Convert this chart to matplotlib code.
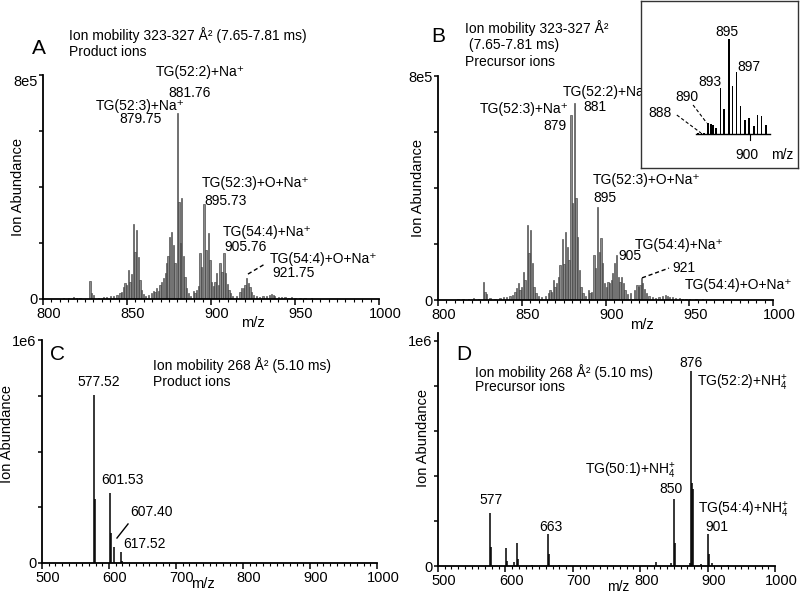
import numpy as np
import matplotlib
matplotlib.use('Agg')
import matplotlib.pyplot as plt
from matplotlib.transforms import ScaledTranslation

plt.rcParams['font.family'] = ['Liberation Sans', 'DejaVu Sans']
plt.rcParams['mathtext.fontset'] = 'custom'
plt.rcParams['mathtext.rm'] = 'Liberation Sans'
plt.rcParams['mathtext.it'] = 'Liberation Sans:italic'
plt.rcParams['mathtext.bf'] = 'Liberation Sans:bold'

# ---- data (m/z, abundance in thousands) ----
a_mz = [812, 815, 818, 820, 822, 828.0, 829.0, 830.0, 833, 836, 838, 840, 842, 844,
        845.8, 846.8, 847.8, 848.8, 849.8, 850.8, 851.8, 852.8, 853.8, 854.8, 855.8,
        856.8, 857.8, 858.8, 859.8, 861, 863, 864.7, 865.7, 866.7, 867.7, 868.7, 869.7,
        870.7, 871.7, 872.7, 873.6, 874.4, 875.2, 876.6, 877.6, 878.6, 879.9, 880.9,
        881.7, 882.5, 883.5, 884.5, 885.5, 886.5, 888, 889.4, 890.4, 891.4, 892.4,
        893.4, 894.4, 895.8, 897.0, 898.4, 899.4, 900.4, 901.4, 902.4, 903.4, 904.4,
        905.4, 906.5, 907.7, 908.7, 909.7, 910.7, 911.7, 913, 915, 917.2, 918.2, 919.2,
        920.2, 921.2, 922.2, 923.2, 924.2, 925.5, 927, 929, 931, 933, 935, 936, 937,
        938, 940, 942, 944, 946, 948, 950, 953, 956, 960]
a_int = [3, 4, 6, 5, 4, 64, 22, 14, 5, 7, 8, 10, 9, 14,
         20, 26, 44, 58, 50, 103, 62, 90, 268, 169, 246,
         151, 68, 32, 18, 10, 14, 22, 30, 26, 38, 30, 50,
         60, 74, 92, 127, 155, 222, 240, 193, 130, 663, 347,
         200, 359, 155, 80, 40, 20, 10, 28, 20, 32, 48,
         163, 115, 341, 175, 234, 140, 62, 45, 62, 92, 50,
         127, 95, 163, 92, 55, 32, 20, 10, 12, 26, 38, 38,
         50, 74, 56, 42, 26, 14, 10, 8, 9, 12, 16, 18, 14,
         12, 8, 7, 6, 5, 6, 5, 3, 3, 2]

b_mz = [812, 815, 818, 821, 824, 827.1, 828.1, 829.1, 831, 834, 837, 839, 841, 843,
        844.5, 846.0, 847.0, 848.0, 849.0, 850.0, 850.9, 852.0, 853.3, 854.3, 855.3,
        856.3, 857.3, 858.5, 860, 862, 864, 865.9, 866.9, 867.9, 868.9, 869.9, 870.9,
        871.9, 872.9, 874.2, 875.2, 876.2, 877.2, 878.2, 879.4, 880.4, 881.4, 882.4,
        883.4, 884.4, 885.4, 886.5, 888, 889.7, 890.7, 891.7, 893.1, 894.1, 895.3,
        896.3, 897.3, 898.3, 899.3, 900.5, 901.5, 902.5, 903.5, 904.3, 905.3, 906.7,
        907.7, 908.7, 909.7, 910.7, 911.7, 913, 915, 917.5, 918.8, 919.8, 920.6, 921.4,
        922.3, 923.3, 924.5, 926, 928, 930, 932, 934, 936, 937, 938, 940, 942, 944,
        946, 948, 950, 954, 958]
b_int = [3, 4, 5, 6, 4, 65, 30, 22, 6, 5, 8, 10, 12, 15,
         18, 30, 42, 60, 36, 48, 101, 70, 268, 167, 250,
         131, 48, 24, 14, 12, 16, 24, 36, 30, 71, 48, 60,
         83, 125, 217, 130, 244, 190, 143, 660, 345, 705, 363,
         226, 107, 48, 24, 14, 36, 24, 30, 160, 113, 333,
         173, 220, 131, 60, 48, 65, 60, 71, 95, 131, 160,
         83, 65, 83, 60, 36, 20, 24, 36, 54, 48, 54, 77,
         60, 40, 24, 14, 10, 8, 10, 14, 18, 16, 12, 9, 7, 6,
         5, 5, 4, 3, 2]

# inset of panel B (relative abundance)
ins_mz = [887.64, 888.44, 889.08, 890.04, 890.68, 891.24, 891.88, 893.0, 893.8, 895.0,
          895.88, 896.84, 897.8, 898.84, 899.88, 901.0, 901.88, 902.84, 903.88]
ins_int = [3, 3, 4, 33, 31, 28, 20, 138, 77, 285, 145, 188, 85, 43, 50, 25, 58, 55, 28]

c_mz = [577.52, 578.5, 601.53, 602.5, 607.40, 617.52, 619.5]
c_int = [753, 287, 315, 134, 73, 51, 8]

d_mz = [577, 578, 601, 602, 613, 617, 618, 640, 663, 664, 680, 823, 845, 850, 851,
        874, 876, 877, 878, 890, 901, 902, 906, 930]
d_int = [234, 86, 79, 20, 19, 104, 30, 5, 141, 53, 5, 19, 12, 296, 104,
         12, 868, 369, 343, 8, 142, 53, 12, 4]

fig = plt.figure(figsize=(8, 5.93), dpi=100)
fs = 10
tls = 10.5


def P(px, py):
    return px / 800.0, 1 - py / 593.0


def setup(ax, x0, x1, minor, ytop, yticks, toplab, zsize, tsize):
    ax.set_xlim(x0, x1)
    ax.set_ylim(0, ytop)
    for s in ['top', 'right']:
        ax.spines[s].set_visible(False)
    for s in ['left', 'bottom']:
        ax.spines[s].set_linewidth(1.3)
    ax.set_xticks(np.arange(x0, x1 + 1, (x1 - x0) / (4 if x1 - x0 == 200 else 5)))
    ax.set_xticks(np.arange(x0, x1 + 1, minor), minor=True)
    ax.set_yticks(yticks)
    labs = ax.set_yticklabels(['0'] + [''] * (len(yticks) - 2) + [toplab])
    labs[0].set_fontsize(zsize)
    labs[-1].set_fontsize(tsize)
    ax.tick_params(axis='both', which='major', length=4, width=1.1, labelsize=tls, pad=2)
    ax.tick_params(axis='x', which='minor', length=2, width=0.8)
    ax.tick_params(axis='y', length=3, pad=1)
    # tick labels in the original sit a few pixels right of their ticks
    off = ScaledTranslation(6 / 100, 0, fig.dpi_scale_trans)
    for lab in ax.get_xticklabels():
        lab.set_transform(lab.get_transform() + off)


def mz(ax, x, y, size=tls):
    ax.text(x, y, 'm/z', transform=ax.transAxes, ha='center', va='center', fontsize=size)


def ylab(ax, x, y):
    ax.text(x, y, 'Ion Abundance', transform=ax.transAxes, ha='center', va='center',
            rotation=90, fontsize=tls)


# ---------- A ----------
axA = fig.add_axes([43 / 800, 1 - 299 / 593, 336 / 800, 224 / 593])
axA.bar(a_mz, np.array(a_int) * 1e3, width=0.75, facecolor='#8a8a8a', edgecolor='#333333',
        linewidth=0.4)
setup(axA, 800, 1000, 5, 8e5, [0, 2e5, 4e5, 6e5, 8e5], '8e5', tls, tls)
axA.get_yticklabels()[-1].set_va('top')
ylab(axA, -0.074, 0.5)
mz(axA, 0.625, -0.107)
axA.text(867.3, 8.1e5, 'TG(52:2)+Na⁺', fontsize=fs, va='center', clip_on=False)
axA.text(874.4, 7.36e5, '881.76', fontsize=fs, va='center')
axA.text(831.5, 6.9e5, 'TG(52:3)+Na⁺', fontsize=fs, va='center')
axA.text(845.2, 6.44e5, '879.75', fontsize=fs, va='center')
axA.text(894.6, 4.16e5, 'TG(52:3)+O+Na⁺', fontsize=fs, va='center')
axA.text(895.8, 3.51e5, '895.73', fontsize=fs, va='center')
axA.text(907.1, 2.41e5, 'TG(54:4)+Na⁺', fontsize=fs, va='center')
axA.text(907.7, 1.84e5, '905.76', fontsize=fs, va='center')
axA.text(935.1, 1.42e5, 'TG(54:4)+O+Na⁺', fontsize=fs, va='center')
axA.text(936.3, 0.94e5, '921.75', fontsize=fs, va='center')
axA.plot([922.0, 932.1], [0.89e5, 1.25e5], color='black', lw=1, ls=(0, (3, 2)))
fig.text(*P(39, 48), 'A', fontsize=15, ha='center', va='center')
fig.text(*P(69, 35), 'Ion mobility 323-327 Å² (7.65-7.81 ms)', fontsize=fs, va='center')
fig.text(*P(69, 52), 'Product ions', fontsize=fs, va='center')

# ---------- B ----------
axB = fig.add_axes([438 / 800, 1 - 300 / 593, 335 / 800, 224 / 593])
axB.bar(b_mz, np.array(b_int) * 1e3, width=0.75, facecolor='#8a8a8a', edgecolor='#333333',
        linewidth=0.4)
setup(axB, 800, 1000, 5, 8e5, [0, 2e5, 4e5, 6e5, 8e5], '8e5', 4, tls)
ylab(axB, -0.06, 0.5)
mz(axB, 0.609, -0.112)
axB.text(874.6, 7.43e5, 'TG(52:2)+Na⁺', fontsize=fs, va='center')
axB.text(886.6, 6.89e5, '881', fontsize=fs, va='center')
axB.text(825.1, 6.82e5, 'TG(52:3)+Na⁺', fontsize=fs, va='center')
axB.text(862.7, 6.21e5, '879', fontsize=fs, va='center')
axB.text(892.5, 4.28e5, 'TG(52:3)+O+Na⁺', fontsize=fs, va='center')
axB.text(892.5, 3.64e5, '895', fontsize=fs, va='center')
axB.text(917.6, 1.96e5, 'TG(54:4)+Na⁺', fontsize=fs, va='center')
axB.text(907.5, 1.57e5, '905', fontsize=fs, va='center')
axB.text(939.7, 1.14e5, '921', fontsize=fs, va='center')
axB.text(947.5, 0.54e5, 'TG(54:4)+O+Na⁺', fontsize=fs, va='center', clip_on=False)
axB.plot([921.8, 937.9], [0.79e5, 1.14e5], color='black', lw=1, ls=(0, (3, 2)))
fig.text(*P(438, 37), 'B', fontsize=15, ha='center', va='center')
fig.text(*P(465, 28), 'Ion mobility 323-327 Å²', fontsize=fs, va='center')
fig.text(*P(465, 45), ' (7.65-7.81 ms)', fontsize=fs, va='center')
fig.text(*P(465, 62), 'Precursor ions', fontsize=fs, va='center')

# inset
axI = fig.add_axes([641 / 800, 1 - 168 / 593, 157 / 800, 167 / 593])
axI.set_facecolor('white')
axI.bar(ins_mz, ins_int, width=0.45, color='black')
axI.plot([887.2, 904.8], [0, 0], color='black', lw=1)
axI.plot([900, 900], [0, -18], color='black', lw=0.8)
axI.set_xlim(873.9, 911.6)
axI.set_ylim(-101, 400)
axI.set_xticks([])
axI.set_yticks([])
for s in axI.spines.values():
    s.set_linewidth(1.0)
    s.set_color('#333333')
axI.text(894.45, 307, '895', fontsize=fs, ha='center', va='center')
axI.text(899.8, 202, '897', fontsize=fs, ha='center', va='center')
axI.text(890.4, 157, '893', fontsize=fs, ha='center', va='center')
axI.text(884.85, 112, '890', fontsize=fs, ha='center', va='center')
axI.text(878.4, 64, '888', fontsize=fs, ha='center', va='center')
axI.plot([882.5, 888.3], [58, 4], color='black', lw=0.8, ls=(0, (3, 2)))
axI.plot([886.4, 889.7], [88, 34], color='black', lw=0.8, ls=(0, (3, 2)))
axI.text(899.3, -62, '900', fontsize=fs, ha='center', va='center')
axI.text(907.9, -62, 'm/z', fontsize=fs, ha='center', va='center')

# ---------- C ----------
axC = fig.add_axes([42 / 800, 1 - 563 / 593, 335 / 800, 223 / 593])
axC.vlines(c_mz, 0, np.array(c_int) * 1e3, color='black', lw=1.1)
setup(axC, 500, 1000, 10, 1e6, [0, 2.5e5, 5e5, 7.5e5, 1e6], '1e6', 4, 8)
ylab(axC, -0.104, 0.578)
mz(axC, 0.48, -0.095)
axC.text(552.2, 8.12e5, '577.52', fontsize=fs, va='center')
axC.text(588.1, 3.72e5, '601.53', fontsize=fs, va='center')
axC.text(631.3, 2.29e5, '607.40', fontsize=fs, va='center')
axC.text(620.9, 0.85e5, '617.52', fontsize=fs, va='center')
axC.plot([611.9, 628.4], [1.12e5, 1.75e5], color='black', lw=1)
fig.text(*P(58, 355), 'C', fontsize=15, ha='center', va='center')
fig.text(*P(153, 365), 'Ion mobility 268 Å² (5.10 ms)', fontsize=fs, va='center')
fig.text(*P(153, 382), 'Product ions', fontsize=fs, va='center')

# ---------- D ----------
axD = fig.add_axes([438 / 800, 1 - 566 / 593, 337 / 800, 233 / 593])
axD.vlines(d_mz, 0, np.array(d_int) * 1e3, color='black', lw=1.1)
setup(axD, 500, 1000, 10, 1.035e6, [0, 2e5, 4e5, 6e5, 8e5, 1e6], '1e6', 4, 9)
ylab(axD, -0.045, 0.55)
mz(axD, 0.535, -0.092, size=10)
axD.text(857.6, 9.02e5, '876', fontsize=fs, va='center')
axD.text(884.3, 8.13e5, 'TG(52:2)+NH$_{4}^{+}$', fontsize=fs, va='center', clip_on=False)
axD.text(718.1, 4.22e5, 'TG(50:1)+NH$_{4}^{+}$', fontsize=fs, va='center')
axD.text(827.9, 3.42e5, '850', fontsize=fs, va='center')
axD.text(885.8, 2.49e5, 'TG(54:4)+NH$_{4}^{+}$', fontsize=fs, va='center', clip_on=False)
axD.text(896.1, 1.73e5, '901', fontsize=fs, va='center')
axD.text(560.8, 2.93e5, '577', fontsize=fs, va='center')
axD.text(649.9, 1.73e5, '663', fontsize=fs, va='center')
fig.text(*P(464, 355), 'D', fontsize=15, ha='center', va='center')
fig.text(*P(475, 372), 'Ion mobility 268 Å² (5.10 ms)', fontsize=fs, va='center')
fig.text(*P(475, 387), 'Precursor ions', fontsize=fs, va='center')

fig.savefig('out.png', dpi=100)
